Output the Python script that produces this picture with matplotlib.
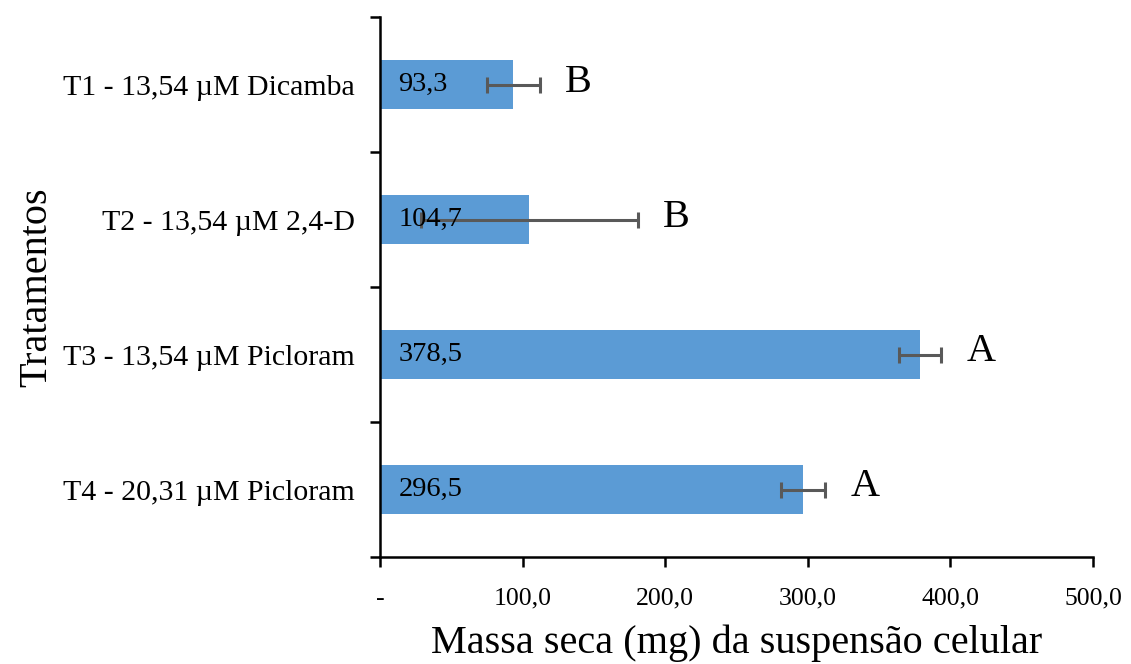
import numpy as np
import matplotlib
matplotlib.use("Agg")
import matplotlib.pyplot as plt

plt.rcParams['font.family'] = ['Liberation Serif', 'DejaVu Serif']

# dados
tratamentos = ['T1 - 13,54 µM Dicamba', 'T2 - 13,54 µM 2,4-D',
               'T3 - 13,54 µM Picloram', 'T4 - 20,31 µM Picloram']
massa = [93.3, 104.7, 378.5, 296.5]
erro = [18.6, 76.0, 14.8, 15.5]
letras = ['B', 'B', 'A', 'A']
xticks = [0, 100, 200, 300, 400, 500]
xtick_labels = ['-', '100,0', '200,0', '300,0', '400,0', '500,0']

fig = plt.figure(figsize=(11.31, 6.64), dpi=100)
ax = fig.add_axes([0.336, 0.161, 0.6304, 0.813])

ypos = np.arange(len(tratamentos))[::-1]
ax.barh(ypos, massa, height=0.36, color='#5B9BD5', zorder=2)
ax.errorbar(massa, ypos, xerr=erro, fmt='none', ecolor='#595959',
            elinewidth=2.2, capsize=5.5, capthick=2.2, zorder=3)

for y, m, e, l in zip(ypos, massa, erro, letras):
    ax.text(13, y, f'{m:.1f}'.replace('.', ','), va='center', ha='left',
            fontsize=20.5, zorder=4)
    ax.text(m + e + 18, y + 0.02, l, va='center', ha='left', fontsize=29)

ax.set_xlim(0, 500)
ax.set_ylim(-0.5, 3.5)
ax.set_xticks(xticks)
ax.set_xticklabels(xtick_labels, fontsize=18.5)
ax.set_yticks(ypos)
ax.set_yticklabels(tratamentos, fontsize=21.5)
ax.set_yticks(np.arange(-0.5, 3.6, 1), minor=True)
ax.tick_params(axis='y', which='major', length=0, pad=18)
ax.tick_params(axis='y', which='minor', length=7, width=1.8, direction='out')
ax.tick_params(axis='x', length=7, width=1.8, pad=15, direction='out')

for s in ['top', 'right']:
    ax.spines[s].set_visible(False)
for s in ['left', 'bottom']:
    ax.spines[s].set_linewidth(1.8)

ax.set_xlabel('Massa seca (mg) da suspensão celular', fontsize=29, labelpad=11)
ax.set_ylabel('Tratamentos', fontsize=29, labelpad=6)

fig.savefig('out.png', dpi=100)
